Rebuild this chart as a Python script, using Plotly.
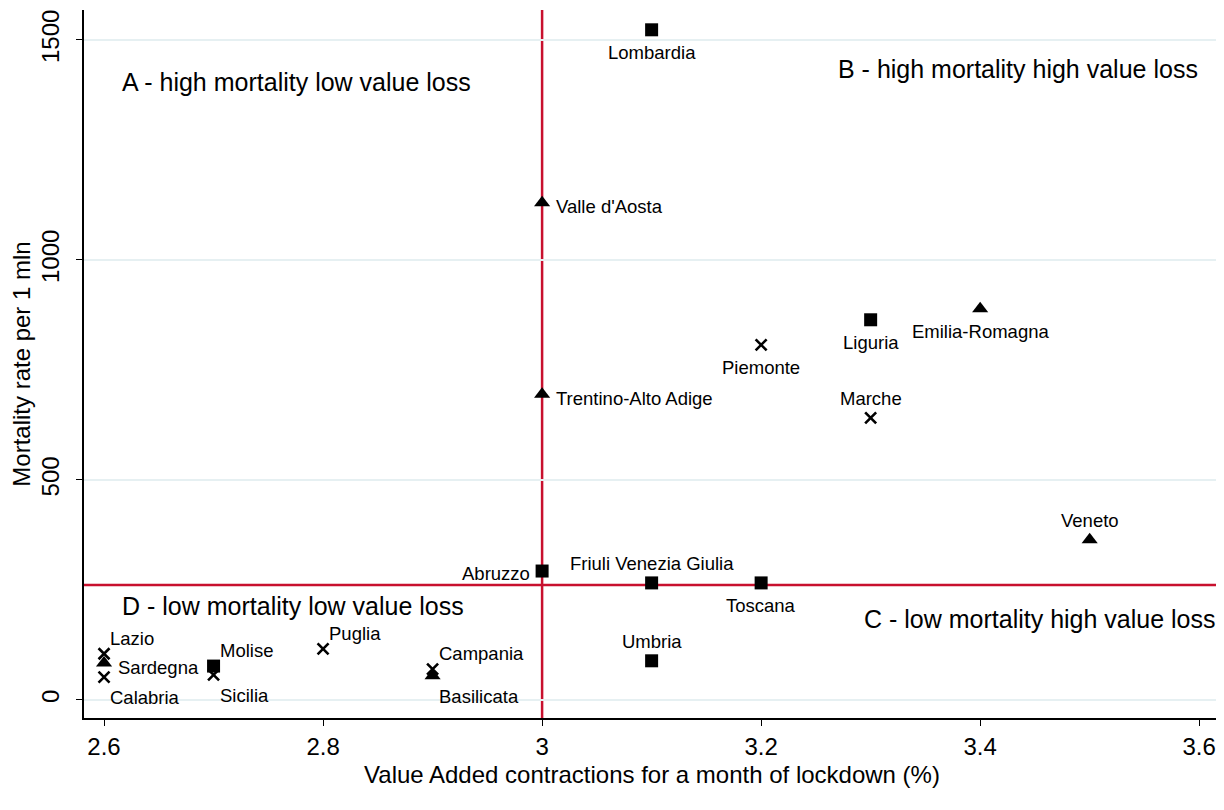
import plotly.graph_objects as go

regions = ["Lombardia", "Valle d'Aosta", "Trentino-Alto Adige", "Piemonte", "Liguria",
           "Emilia-Romagna", "Marche", "Veneto", "Abruzzo", "Friuli Venezia Giulia",
           "Toscana", "Umbria", "Lazio", "Sardegna", "Calabria", "Molise", "Sicilia",
           "Puglia", "Campania", "Basilicata"]
va_contraction = [3.1, 3.0, 3.0, 3.2, 3.3, 3.4, 3.3, 3.5, 3.0, 3.1,
                  3.2, 3.1, 2.6, 2.6, 2.6, 2.7, 2.7, 2.8, 2.9, 2.9]
mortality = [1523, 1130, 695, 807, 864, 889, 641, 364, 293, 266,
             266, 89, 105, 84, 52, 77, 57, 116, 70, 55]
group = ["sq", "tri", "tri", "x", "sq", "tri", "x", "tri", "sq", "sq",
         "sq", "sq", "x", "tri", "x", "sq", "x", "x", "x", "tri"]
label_pos = ["b", "r", "r", "b", "b", "b", "t", "t", "l", "t",
             "b", "t", "tr", "r", "br", "tr", "br", "tr", "tr", "br"]

threshold_x = 3.0
threshold_y = 261

quadrants = [
    ("A - high mortality low value loss", 2.6146, 1405),
    ("B - high mortality high value loss", 3.2685, 1434),
    ("C - low mortality high value loss", 3.292, 184),
    ("D - low mortality low value loss", 2.6146, 214),
]

FONT = "Liberation Sans, Arial, Helvetica, sans-serif"

fig = go.Figure()

# red reference lines
fig.add_shape(type="line", xref="x", yref="paper", x0=threshold_x, x1=threshold_x, y0=0, y1=1,
              line=dict(color="#c8102e", width=2.5), layer="below")
fig.add_shape(type="line", xref="paper", yref="y", x0=0, x1=1, y0=threshold_y, y1=threshold_y,
              line=dict(color="#c8102e", width=2.5), layer="below")

sym_map = {
    "sq": dict(symbol="square", size=13, line=dict(width=0)),
    "tri": dict(symbol="triangle-up", size=14, line=dict(width=0)),
    "x": dict(symbol="x-thin", size=11, line=dict(width=2.6, color="black")),
}
for g in ["sq", "tri", "x"]:
    xs = [x for x, gg in zip(va_contraction, group) if gg == g]
    ys = [y for y, gg in zip(mortality, group) if gg == g]
    names = [r for r, gg in zip(regions, group) if gg == g]
    fig.add_trace(go.Scatter(x=xs, y=ys, mode="markers", text=names, hoverinfo="text",
                             marker=dict(color="black", **sym_map[g]), showlegend=False))

pos_map = {
    "b": dict(xanchor="center", yanchor="top", xshift=0, yshift=-10),
    "t": dict(xanchor="center", yanchor="bottom", xshift=0, yshift=7),
    "r": dict(xanchor="left", yanchor="middle", xshift=12, yshift=-4),
    "l": dict(xanchor="right", yanchor="middle", xshift=-10, yshift=-2),
    "tr": dict(xanchor="left", yanchor="bottom", xshift=4, yshift=3),
    "br": dict(xanchor="left", yanchor="top", xshift=4, yshift=-8),
}
for r, x, y, p in zip(regions, va_contraction, mortality, label_pos):
    fig.add_annotation(x=x, y=y, text=r, showarrow=False,
                       font=dict(size=18.5, color="black", family=FONT), **pos_map[p])

for t, x, y in quadrants:
    fig.add_annotation(x=x, y=y, text=t, showarrow=False, xanchor="left", yanchor="middle",
                       font=dict(size=25, color="black", family=FONT))

fig.update_layout(
    width=1224, height=810,
    margin=dict(l=76, r=12, t=2, b=100),
    plot_bgcolor="white", paper_bgcolor="white",
    font=dict(family=FONT, color="black"),
    xaxis=dict(range=[2.5817, 3.619], tickvals=[2.6, 2.8, 3.0, 3.2, 3.4, 3.6],
               ticktext=["2.6", "2.8", "3", "3.2", "3.4", "3.6"],
               showgrid=False, zeroline=False, showline=True, linecolor="black", linewidth=1.5,
               ticks="outside", ticklen=6, tickcolor="black", tickfont=dict(size=24),
               title=dict(text="Value Added contractions for a month of lockdown (%)",
                          font=dict(size=24), standoff=8)),
    yaxis=dict(range=[-41, 1568], tickvals=[0, 500, 1000, 1500], tickangle=-90,
               showgrid=True, gridcolor="#e6f0f2", gridwidth=1.5, zeroline=False,
               showline=True, linecolor="black", linewidth=1.5,
               ticks="outside", ticklen=6, tickcolor="black", tickfont=dict(size=24),
               ticklabelstandoff=8,
               title=dict(text="Mortality rate per 1 mln", font=dict(size=24), standoff=2)),
)

fig.write_html("out.html")
